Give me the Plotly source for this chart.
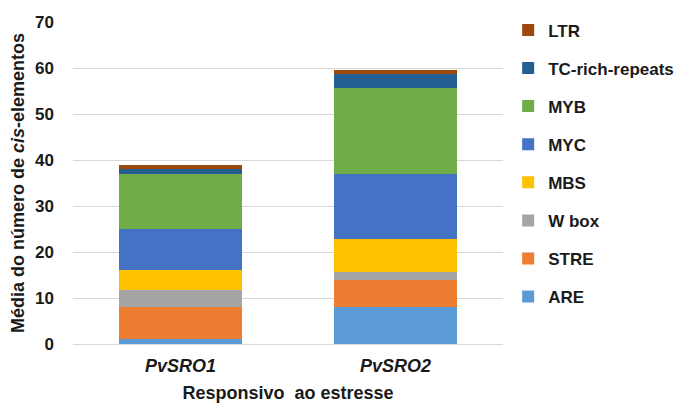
import plotly.graph_objects as go

categories = ["PvSRO1", "PvSRO2"]
series_names = ["ARE", "STRE", "W box", "MBS", "MYC", "MYB", "TC-rich-repeats", "LTR"]
ARE = [1, 8]
STRE = [7, 6]
WBOX = [3.7, 1.7]
MBS = [4.3, 7.2]
MYC = [9, 14.1]
MYB = [12, 18.7]
TC = [1, 3]
LTR = [1, 0.8]
values = [ARE, STRE, WBOX, MBS, MYC, MYB, TC, LTR]
colors = ["#5B9BD5", "#ED7D31", "#A5A5A5", "#FFC000", "#4472C4", "#70AD47", "#255E91", "#9E480E"]

font = "Liberation Sans, Arial, sans-serif"
txt = "#1a1a1a"

fig = go.Figure()
n = len(series_names)
for i, (name, vals, col) in enumerate(zip(series_names, values, colors)):
    fig.add_trace(go.Bar(
        x=["<i>%s</i>" % c for c in categories], y=vals, name=name,
        marker=dict(color=col, line=dict(width=0)),
        legendgroup=name, legendrank=n - i,
    ))

fig.update_layout(
    barmode="stack",
    bargap=0.43,
    width=675, height=395,
    paper_bgcolor="white", plot_bgcolor="white",
    margin=dict(l=65, r=180, t=14, b=59, autoexpand=False),
    font=dict(family=font, size=15, color=txt),
    showlegend=True,
    legend=dict(
        traceorder="grouped", tracegroupgap=13,
        x=1.012, xanchor="left", y=1.03, yanchor="top",
        font=dict(family=font, size=17, color=txt, weight="bold"),
        itemwidth=30, bgcolor="rgba(0,0,0,0)", maxheight=390,
    ),
    xaxis=dict(
        showgrid=False, showline=False, ticks="", ticklabelstandoff=9,
        tickfont=dict(family=font, size=18, color=txt, weight="bold"),
        title=dict(text="<b>Responsivo  ao estresse</b>", font=dict(family=font, size=18, color=txt), standoff=13),
    ),
    yaxis=dict(
        range=[0, 70], dtick=10, showgrid=True, gridcolor="#D9D9D9", gridwidth=1,
        zeroline=True, zerolinecolor="#D9D9D9", zerolinewidth=1,
        showline=False, ticks="", ticklabelstandoff=18,
        tickfont=dict(family=font, size=17, color=txt, weight="bold"),
        title=dict(text="<b>Média do número de <i>cis</i>-elementos</b>", font=dict(family=font, size=18, color=txt), standoff=6),
    ),
)

fig.write_html("out.html")
